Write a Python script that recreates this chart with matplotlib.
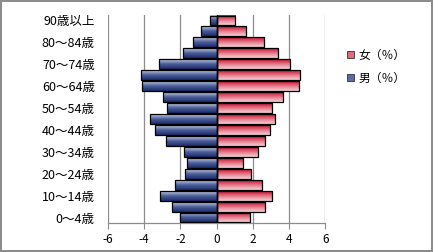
import numpy as np
import matplotlib
matplotlib.use("Agg")
import matplotlib.pyplot as plt
from matplotlib.patches import Patch
from matplotlib.colors import LinearSegmentedColormap

plt.rcParams['font.family'] = ['Noto Sans CJK JP', 'DejaVu Sans']

categories = ["0〜4歳", "5〜9歳", "10〜14歳", "15〜19歳", "20〜24歳", "25〜29歳",
              "30〜34歳", "35〜39歳", "40〜44歳", "45〜49歳", "50〜54歳", "55〜59歳",
              "60〜64歳", "65〜69歳", "70〜74歳", "75〜79歳", "80〜84歳", "85〜89歳", "90歳以上"]
female = [1.85, 2.68, 3.07, 2.52, 1.87, 1.47, 2.30, 2.68, 2.96, 3.24, 3.07, 3.68,
          4.57, 4.62, 4.07, 3.37, 2.63, 1.63, 1.02]
male = [-2.02, -2.48, -3.12, -2.29, -1.74, -1.61, -1.80, -2.79, -3.42, -3.68, -2.74, -2.96,
        -4.12, -4.19, -3.18, -1.87, -1.30, -0.86, -0.34]
xticks = [-6, -4, -2, 0, 2, 4, 6]
label_female = "女（％）"
label_male = "男（％）"

fig = plt.figure(figsize=(4.33, 2.52), dpi=100)
fig.patch.set_facecolor('white')
fig.patch.set_edgecolor('#8c8c8c')
fig.patch.set_linewidth(1.5)

ax = fig.add_axes([0.2494, 0.1151, 0.5019, 0.8254])

cmap_f = LinearSegmentedColormap.from_list('f', ['#f3d3d9', '#e57a8a', '#c8102e'])
cmap_m = LinearSegmentedColormap.from_list('m', ['#1c2a6b', '#4a5d98', '#c4cce6'])
grad = np.linspace(0, 1, 64).reshape(-1, 1)

h = 0.9
y = np.arange(len(categories))
for yi, v in zip(y, female):
    ax.imshow(grad, cmap=cmap_f, aspect='auto', origin='lower',
              extent=(0, v, yi - h / 2, yi + h / 2), zorder=2, interpolation='bilinear')
for yi, v in zip(y, male):
    ax.imshow(grad, cmap=cmap_m, aspect='auto', origin='lower',
              extent=(v, 0, yi - h / 2, yi + h / 2), zorder=2, interpolation='bilinear')
ax.barh(y, female, height=h, facecolor='none', edgecolor='black', linewidth=0.9, zorder=3)
ax.barh(y, male, height=h, facecolor='none', edgecolor='black', linewidth=0.9, zorder=3)

ax.set_xlim(-6, 6)
ax.set_ylim(-0.5, len(categories) - 0.5)
ax.set_aspect('auto')

for xv in xticks:
    if xv != 0:
        ax.axvline(xv, color='#8c8c8c', linewidth=0.9, zorder=1)
ax.axvline(0, color='black', linewidth=1.0, zorder=4)

for s in ['top', 'right', 'left']:
    ax.spines[s].set_visible(False)
ax.spines['bottom'].set_color('#8c8c8c')
ax.spines['bottom'].set_linewidth(0.9)

ax.set_xticks(xticks)
ax.set_xticklabels([str(t) for t in xticks])
ax.tick_params(axis='x', direction='out', length=4, color='#8c8c8c', labelsize=8.5, pad=3.5)
ax.set_yticks(y[::2])
ax.set_yticklabels(categories[::2])
ax.tick_params(axis='y', length=0, labelsize=9, pad=9.5)

handles = [Patch(facecolor='#e06a7c', edgecolor='#333333', linewidth=0.6),
           Patch(facecolor='#5a6da6', edgecolor='#333333', linewidth=0.6)]
fig.legend(handles, [label_female, label_male], loc='upper left',
           bbox_to_anchor=(336 / 433, 1 - 38 / 252), frameon=False, fontsize=8.5,
           handlelength=0.6, handleheight=0.6, handletextpad=0.4, labelspacing=0.85)

fig.savefig('out.png', dpi=100, facecolor=fig.get_facecolor(), edgecolor=fig.get_edgecolor())
